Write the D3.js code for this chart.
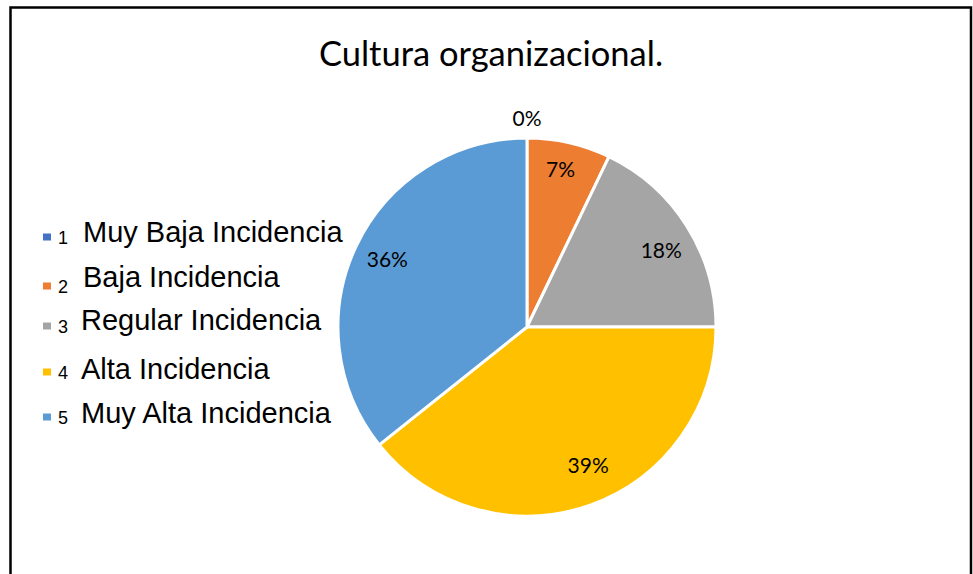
<!DOCTYPE html>
<html>
<head>
<meta charset="utf-8">
<script src="https://cdn.jsdelivr.net/npm/d3@7"></script>
<style>
  html, body { margin: 0; padding: 0; background: #fff; }
  svg { display: block; }
</style>
</head>
<body>
<div id="chart"></div>
<script>
// data
var title = "Cultura organizacional.";
var codes = ["1", "2", "3", "4", "5"];
var categories = ["Muy Baja Incidencia", "Baja Incidencia", "Regular Incidencia", "Alta Incidencia", "Muy Alta Incidencia"];
var counts = [0, 2, 5, 11, 10];
var colors = ["#4472C4", "#ED7D31", "#A5A5A5", "#FFC000", "#5B9BD5"];

var W = 973, H = 574;
var cx = 527, cy = 327, R = 189;

// small hand nudges so the percentage labels sit where Excel put them
var labelNudge = [[0, 0], [-1, -6], [3, 6], [10, -8], [0, 0]];

var svg = d3.select("#chart").append("svg")
  .attr("width", W)
  .attr("height", H);

// frame (bottom edge falls outside the picture)
svg.append("path")
  .attr("d", "M10.5," + (H + 5) + "V7.5H971V" + (H + 5))
  .attr("fill", "none")
  .attr("stroke", "#000")
  .attr("stroke-width", 2.5);

svg.append("text")
  .attr("x", 491)
  .attr("y", 66)
  .attr("text-anchor", "middle")
  .style("font-family", "Lato, 'Open Sans', sans-serif")
  .style("font-size", "34.5px")
  .attr("fill", "#000")
  .text(title);

/*******************
 * PIE
 *******************/
var total = d3.sum(counts);
var pie = d3.pie().sort(null).value(function (d) { return d; });
var arcs = pie(counts);
var arc = d3.arc().innerRadius(0).outerRadius(R);
var labelArc = d3.arc().innerRadius(155).outerRadius(155);
var outerArc = d3.arc().innerRadius(208).outerRadius(208);

var g = svg.append("g").attr("transform", "translate(" + cx + "," + cy + ")");

g.selectAll("path.slice")
  .data(arcs)
  .enter().append("path")
  .attr("class", "slice")
  .attr("d", arc)
  .attr("fill", function (d, i) { return colors[i]; })
  .attr("stroke", "#fff")
  .attr("stroke-width", 3)
  .attr("stroke-linejoin", "round");

g.selectAll("text.lbl")
  .data(arcs)
  .enter().append("text")
  .attr("class", "lbl")
  .attr("transform", function (d, i) {
    var c = d.value === 0 ? outerArc.centroid(d) : labelArc.centroid(d);
    return "translate(" + (c[0] + labelNudge[i][0]) + "," + (c[1] + labelNudge[i][1]) + ")";
  })
  .attr("text-anchor", "middle")
  .attr("dy", "0.35em")
  .style("font-family", "Lato, 'Open Sans', sans-serif")
  .style("font-size", "21px")
  .attr("fill", "#000")
  .text(function (d) { return Math.round(d.value / total * 100) + "%"; });

/*******************
 * LEGEND
 *******************/
var rowY = [237, 286, 326, 372, 417];

var leg = svg.append("g");
var rows = leg.selectAll("g.row")
  .data(categories)
  .enter().append("g")
  .attr("class", "row")
  .attr("transform", function (d, i) { return "translate(0," + rowY[i] + ")"; });

rows.append("rect")
  .attr("x", 43)
  .attr("y", -3.5)
  .attr("width", 8)
  .attr("height", 7)
  .attr("fill", function (d, i) { return colors[i]; });

rows.append("text")
  .attr("x", 58)
  .attr("y", 7)
  .style("font-family", "'Liberation Sans', Arial, sans-serif")
  .style("font-size", "18px")
  .attr("fill", "#000")
  .text(function (d, i) { return codes[i]; });

rows.append("text")
  .attr("x", function (d, i) { return i < 2 ? 83 : 81; })
  .attr("y", function (d, i) { return [5, 1, 4, 7, 6][i]; })
  .style("font-family", "'Liberation Sans', Arial, sans-serif")
  .style("font-size", "29px")
  .attr("fill", "#000")
  .text(function (d) { return d; });
</script>
</body>
</html>
